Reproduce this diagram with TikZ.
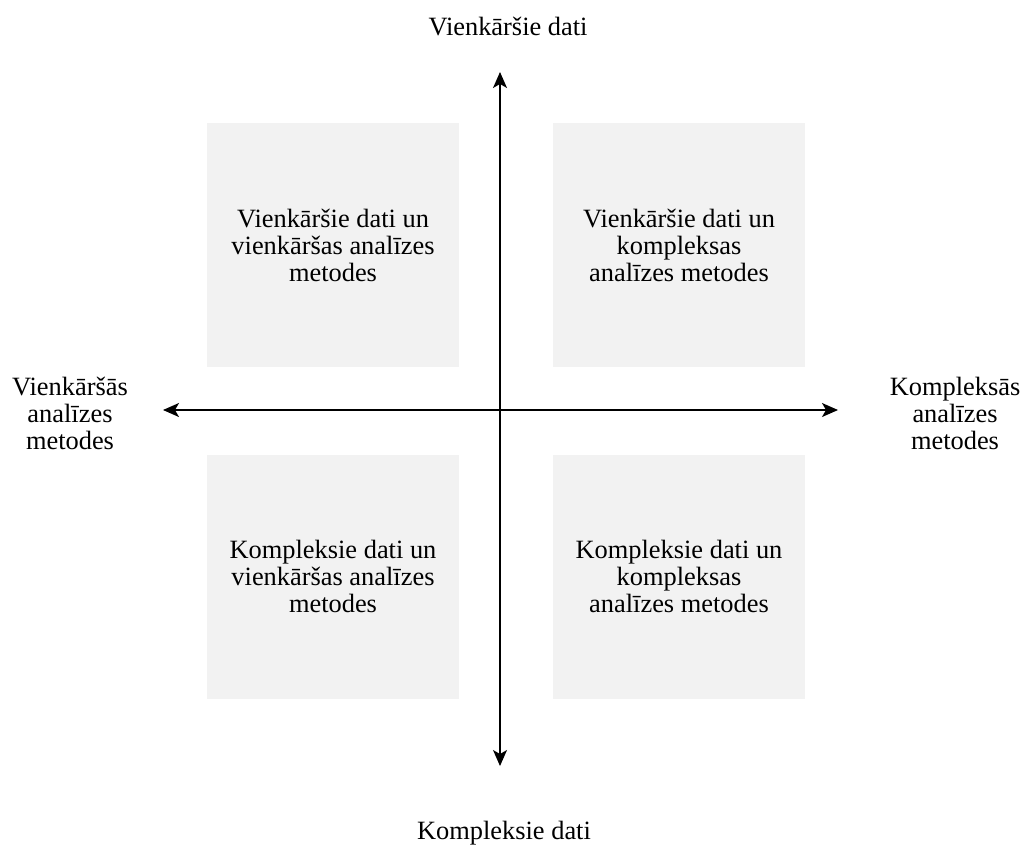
\documentclass[tikz,border=0pt]{standalone}
\usepackage{fontspec}
\setmainfont{Liberation Serif}
\usetikzlibrary{arrows.meta, positioning}

\begin{document}
\begin{tikzpicture}[
    x=0.75pt, y=-0.75pt,
    every node/.style={
        font=\fontsize{19.8pt}{20.25pt}\selectfont,
        align=center,
        inner sep=0pt
    },
    quadrant box/.style={
        fill=black!5,      % light grey field
        minimum width=189pt,
        minimum height=183pt
    },
    axis arrow/.style={
        {Stealth[length=12pt, width=10.5pt, inset=3pt]}-{Stealth[length=12pt, width=10.5pt, inset=3pt]},
        line width=1pt
    }
]
    \useasboundingbox (0,0) rectangle (1023,847);

    \coordinate (o) at (500,410);
    \coordinate (top) at (500,72);
    \coordinate (bottom) at (500,766);
    \coordinate (left) at (163,410);
    \coordinate (right) at (838,410);

    \node[quadrant box] (q1) at (333,245) {Vienkāršie dati un\\vienkāršas analīzes\\metodes};
    \node[quadrant box] (q2) at (679,245) {Vienkāršie dati un\\kompleksas\\analīzes metodes};
    \node[quadrant box] (q3) at (333,576.5) {Kompleksie dati un\\vienkāršas analīzes\\metodes};
    \node[quadrant box] (q4) at (679,576.5) {Kompleksie dati un\\kompleksas\\analīzes metodes};

    \draw[axis arrow] (left) -- (right);
    \draw[axis arrow] (top) -- (bottom);

    \node[anchor=base] (simple data) at (508,35) {Vienkāršie dati};
    \node[anchor=base] (complex data) at (504,839) {Kompleksie dati};
    \node (simple methods) at (70,413) {Vienkāršās\\analīzes\\metodes};
    \node (complex methods) at (955,413) {Kompleksās\\analīzes\\metodes};
\end{tikzpicture}
\end{document}
